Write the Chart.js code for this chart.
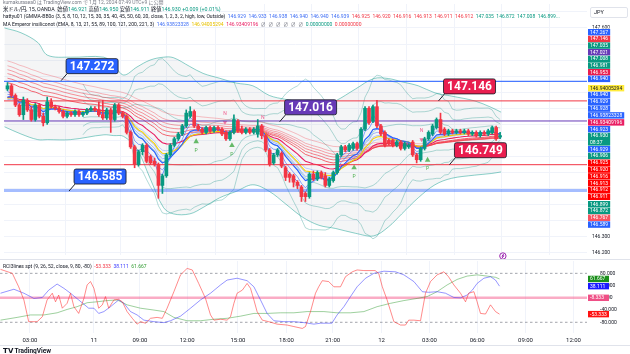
<!DOCTYPE html>
<html>
<head>
<meta charset="utf-8">
<script src="https://cdn.jsdelivr.net/npm/chart.js@4.4.1/dist/chart.umd.min.js"></script>
<style>
html,body{margin:0;padding:0;background:#fff;}
body{width:630px;height:354px;position:relative;overflow:hidden;font-family:Roboto,"Noto Sans CJK JP",sans-serif;}
canvas{position:absolute;left:0;}
#cMain{top:0;}
#cRci{top:260px;}
.t{position:absolute;left:3px;white-space:nowrap;font-size:5px;line-height:7px;color:#131722;z-index:5;}
.b{color:#3d6df5}.r{color:#f23645}.g{color:#089981}.y{color:#e8c200}.p{color:#e91e63}.gr{color:#787b86}
.rb{color:#3b3bff}.rg{color:#2e9a2e}
#jpy{position:absolute;left:590px;top:7px;width:33px;height:9px;border:1px solid #e0e3eb;border-radius:2px;font-size:5.5px;line-height:9px;padding-left:3px;box-sizing:content-box;color:#131722;background:#fff;z-index:5;}
.sep{position:absolute;left:0;width:630px;height:1px;background:#e0e3eb;}
#tv{position:absolute;left:3px;top:347px;font-size:6.5px;font-weight:bold;color:#131722;white-space:nowrap;}
</style>
</head>
<body>
<div class="t gr" style="top:-1.5px">kumakurasea0 は TradingView.com で 1月 12, 2024 07:49 UTC+9 に公開</div>
<div class="t" style="top:5.5px;font-size:5.3px">米ドル/円, 15, OANDA &nbsp;始値<span class="g">146.921</span> 高値<span class="g">146.950</span> 安値<span class="g">146.911</span> 終値<span class="g">146.930</span> <span class="g">+0.009 (+0.01%)</span></div>
<div class="t" style="top:12.8px">hattyu01 (GMMA-BB0o (3, 5, 8, 10, 12, 15, 30, 35, 40, 45, 50, 60, 20, close, 1, 2, 3, 2, high, low, Outside) &nbsp;<span class="b">146.929 &nbsp;146.933 &nbsp;146.938 &nbsp;146.940 &nbsp;146.940 &nbsp;146.939</span> &nbsp;<span class="r">146.925 &nbsp;146.920 &nbsp;146.916 &nbsp;146.913 &nbsp;146.911 &nbsp;146.912</span> &nbsp;<span class="g">147.035 &nbsp;146.872 &nbsp;147.008 &nbsp;146.899...</span></div>
<div class="t" style="top:20.6px">MA Emperor insiliconot (EMA, 8, 13, 21, 55, 89, 100, 121, 200, 221, 3) &nbsp;<span class="b">146.93823328</span> &nbsp;<span class="y">146.94005294</span> &nbsp;<span class="p">146.93409196</span> &nbsp;<span class="gr">∅ &nbsp;∅ &nbsp;∅ &nbsp;∅ &nbsp;∅ &nbsp;∅</span> &nbsp;<span class="g">0.00000000</span> &nbsp;<span class="r">0.00000000</span></div>
<div id="jpy">JPY</div>
<canvas id="cMain" width="630" height="259"></canvas>
<div class="sep" style="top:259px"></div>
<canvas id="cRci" width="630" height="86"></canvas>
<div class="t" style="top:263px">RCI3lines spt (9, 26, 52, close, 9, 80, -80) &nbsp;<span class="r">-53.333</span> &nbsp;<span class="rb">38.111</span> &nbsp;<span class="rg">61.667</span></div>
<div class="sep" style="top:345px"></div>
<div id="tv">𝗧𝗩 TradingView</div>
<script>
// ---------------- DATA ----------------
const candleOpen = [147.22,147.24,147.18,147.12,147.06,147.15,147.09,147.03,147.12,147.05,
147.01,147.14,147.11,147.10,147.08,147.05,147.07,147.06,147.08,147.06,
147.07,147.09,147.10,147.09,147.06,147.04,147.09,147.03,147.12,147.07,
147.05,146.95,146.86,146.75,146.83,146.87,146.80,146.77,146.75,146.62,
146.68,146.81,146.87,146.91,146.94,146.99,147.05,147.08,146.99,146.97,
146.95,146.98,146.96,146.98,146.97,146.95,146.91,146.95,147.02,146.97,
146.95,146.97,146.95,146.94,146.99,146.93,146.84,146.76,146.81,146.82,
146.73,146.69,146.68,146.64,146.61,146.57,146.55,146.69,146.66,146.70,
146.68,146.62,146.65,146.70,146.81,146.86,146.84,146.85,146.88,146.85,
146.97,147.10,147.02,147.11,146.99,146.95,146.90,146.90,146.87,146.89,
146.85,146.86,146.89,146.81,146.78,146.85,146.91,146.94,146.98,147.03,
146.97,146.94,146.96,146.95,146.96,146.95,146.96,146.94,146.95,146.93,
146.95,146.94,146.95,146.98,146.921];
const candleHigh = [147.26,147.25,147.19,147.13,147.17,147.16,147.11,147.13,147.13,147.07,
147.17,147.16,147.12,147.11,147.09,147.08,147.08,147.09,147.09,147.08,
147.10,147.11,147.11,147.14,147.15,147.10,147.10,147.13,147.13,147.08,
147.06,146.96,146.87,146.84,146.88,146.88,146.81,146.79,146.76,146.69,
146.82,146.88,146.92,146.95,147.00,147.09,147.11,147.09,147.00,146.98,
146.99,146.99,146.99,146.99,146.98,146.96,146.96,147.06,147.03,146.99,
146.98,146.98,146.98,147.03,147.00,146.94,146.85,146.82,146.85,146.83,
146.74,146.70,146.69,146.65,146.62,146.58,146.70,146.71,146.71,146.71,
146.70,146.67,146.71,146.82,146.87,146.87,146.88,146.89,146.89,146.98,
147.11,147.11,147.12,147.15,147.00,146.96,146.91,146.91,146.90,146.90,
146.89,146.88,146.90,146.82,146.86,146.92,146.96,147.00,147.04,147.07,
146.98,146.97,146.97,146.97,146.97,146.97,146.97,146.96,146.96,146.96,
146.96,146.97,146.99,146.99,146.950];
const candleLow = [147.21,147.17,147.11,147.05,147.03,147.08,147.02,147.02,147.04,146.99,
147.00,147.10,147.09,147.07,147.04,147.04,147.05,147.05,147.05,147.05,
147.06,147.08,147.08,147.05,147.03,147.03,146.95,147.02,147.06,147.04,
146.94,146.85,146.73,146.74,146.81,146.76,146.75,146.74,146.54,146.57,
146.67,146.80,146.86,146.90,146.93,146.98,147.04,146.98,146.96,146.94,
146.94,146.95,146.95,146.96,146.93,146.90,146.90,146.94,146.95,146.94,
146.94,146.94,146.94,146.92,146.91,146.83,146.74,146.75,146.80,146.73,
146.65,146.64,146.61,146.60,146.52,146.52,146.54,146.65,146.65,146.66,
146.61,146.61,146.64,146.69,146.80,146.83,146.83,146.84,146.84,146.84,
146.96,147.00,147.01,146.98,146.93,146.86,146.87,146.86,146.86,146.84,
146.84,146.85,146.80,146.76,146.77,146.84,146.90,146.93,146.97,146.94,
146.93,146.93,146.94,146.94,146.94,146.94,146.93,146.93,146.92,146.92,
146.93,146.93,146.94,146.90,146.911];
const candleClose = [147.24,147.18,147.12,147.06,147.15,147.09,147.03,147.12,147.05,147.01,
147.14,147.11,147.10,147.08,147.05,147.07,147.06,147.08,147.06,147.07,
147.09,147.10,147.09,147.06,147.04,147.09,147.03,147.12,147.07,147.05,
146.95,146.86,146.75,146.83,146.87,146.77,146.76,146.75,146.62,146.68,
146.81,146.87,146.91,146.94,146.99,147.07,147.08,146.99,146.97,146.95,
146.98,146.96,146.98,146.97,146.94,146.91,146.95,147.03,146.96,146.95,
146.97,146.95,146.97,146.99,146.93,146.84,146.75,146.81,146.84,146.74,
146.67,146.67,146.64,146.62,146.55,146.55,146.69,146.66,146.70,146.67,
146.62,146.66,146.70,146.81,146.86,146.84,146.87,146.88,146.85,146.97,
147.10,147.01,147.11,146.99,146.94,146.87,146.88,146.87,146.89,146.85,
146.88,146.87,146.81,146.78,146.85,146.91,146.95,146.99,147.03,146.95,
146.94,146.96,146.95,146.96,146.95,146.96,146.94,146.95,146.93,146.95,
146.94,146.96,146.98,146.91,146.930];

// EMA periods and starting values read at the left edge
const gmmaShortPeriods = [3,5,8,10,12,15];
const gmmaShortSeeds   = [147.17,147.16,147.15,147.15,147.14,147.14];
const gmmaLongPeriods  = [30,35,40,45,50,60];
const gmmaLongSeeds    = [147.26,147.29,147.32,147.345,147.37,147.40];
const emperorPeriods   = [8,13,21];
const emperorSeeds     = [147.15,147.15,147.16];
const bbPeriod = 20;
const bbMultipliers = [1,2,3];

// outer envelope
const envX     = [-0.75,3.4,7.6,10.1,15.9,24.25,26.75,29.25,32.6,35.9,39.25,41.75,45.9,49.25,53.4,57.6,61.75,65.9,70.1,74.25,78.4,82.6,87.6,92.2,95.9,99.25,103.4,107.6,111.75,117.6,121.75,124.25];
const envUpper = [147.60,147.57,147.51,147.43,147.418,147.418,147.37,147.307,147.357,147.40,147.418,147.415,147.36,147.317,147.287,147.257,147.24,147.18,147.155,147.136,147.106,147.146,147.22,147.285,147.285,147.265,147.24,147.196,147.176,147.146,147.106,147.076];
const envLower = [146.985,146.94,146.905,146.905,146.905,146.935,146.93,146.925,146.845,146.664,146.483,146.443,146.443,146.483,146.543,146.583,146.624,146.583,146.503,146.423,146.372,146.352,146.322,146.306,146.362,146.443,146.543,146.624,146.664,146.684,146.694,146.704];

// horizontal lines
const hLineValues = [147.267,147.146,147.021,146.749,146.589];
// callouts: value and bar where the pointer touches
const calloutValues = [147.272,147.016,147.146,146.749,146.585];
const calloutAt     = [13.5,68.5,108.5,111.25,15.5];
// pivot markers
const upMarkX = [47.5,56.5,87.25,105.75];
const upMarkY = [146.893,146.869,146.730,146.778];
const dnMarkX = [54.75,64.25,104.25];
const dnMarkY = [147.013,146.983,146.905];

// time axis
const timeTickPos    = [6.6,22.6,34.1,45.9,58.6,70.75,82.3,94.5,106.5,118.4,130.5,142.5];
const timeTickLabels = ['03:00','11','09:00','12:00','15:00','18:00','21:00','12','03:00','06:00','09:00','12:00'];

// price axis tags (text)
const axisTagText = ['147.267','147.146','147.035','147.021','147.008','146.981','146.953','146.940','146.94005294','146.940','146.929','146.928','146.93823328','146.93409196','146.923','146.930|08:37','146.929','146.906','146.925','146.920','146.916','146.913','146.912','146.911','146.899','146.872','146.767','146.589'];

// RCI lines
const rciShortX = [-0.75,2.2,3.8,5.1,6.3,8.4,9.7,10.9,12.2,13,13.8,14.7,15.9,16.75,17.6,18.8,20.1,20.9,21.75,22.6,23.8,24.7,25.5,26.3,27.6,28.8,29.7,30.9,32.2,33.4,34.25,35.5,36.75,38.4,39.7,40.9,42.6,44.25,45.9,47.2,48.8,50.5,51.75,52.6,54.25,55.9,56.75,57.6,58.4,59.7,60.9,61.75,62.6,63.4,64.7,66.3,68.4,70.9,72.6,74.7,75.5,76.75,78,78.8,79.7,81.3,82.6,84.25,85.5,87.2,88.4,90.1,92.9,93.8,94.7,95.9,97.6,99.25,100.5,101.3,102.6,104.25,105.5,106.75,108.4,110.1,111.25,112.6,114.25,115.5,116.3,117.6,118.4,119.25,120.5,121.75,123,124];
const rciShortY = [93,80,36,-7,-78,-78,-62,-7,15,-13,9,-34,-18,15,-29,-51,-2,42,53,31,-34,-23,4,-34,-7,-5,-13,-45,-67,-86,-78,-83,-67,-64,-67,-34,20,75,96,91,47,-2,-56,-73,-70,-73,-62,-18,15,25,47,31,-7,-45,-73,-78,-86,-89,-94,-100,-94,-45,15,36,56,53,36,36,69,85,91,89,89,80,36,-7,-78,-89,-89,-73,-73,-75,15,53,75,85,69,42,15,-13,15,20,-13,-51,-53,-23,-45,-53.333];
const rciMidX = [-0.75,2.6,5.1,7.6,9.7,11.3,13.4,15.1,16.75,18.8,21.3,22.6,23.8,25.1,26.75,28.8,30.1,31.75,33.4,35.1,37.6,40.1,41.75,44.25,46.75,49.25,51.75,54.25,55.9,58.4,60.9,62.6,64.25,65.9,67.6,70.1,72.6,75.1,77.6,79.25,82.1,83.4,85.1,86.75,88.4,90.5,92.6,95.1,98,100.1,102.6,104.7,106.3,108.4,110.5,112.6,114.25,115.9,117.2,118.4,120.1,121.75,123,124];
const rciMidY = [15,28,15,-2,1,25,45,31,15,-7,-34,-34,-51,-45,-29,-7,-18,-45,-56,-73,-78,-81,-75,-60,-34,-7,15,42,58,64,56,36,-7,-51,-75,-78,-78,-81,-86,-83,-83,-56,-29,4,36,64,80,87,85,75,53,20,18,20,15,1,0,9,25,47,64,69,58,38.111];
const rciLongX = [-0.75,3.4,6.75,10.1,13.4,15.9,18.4,20.9,23.4,25.9,28.4,30.9,34.25,37.6,40.1,42.6,45.9,49.25,52.6,55.9,59.25,62.6,65.9,69.25,72.6,75.9,80.1,83.4,86.75,90.1,93.4,96.75,100.1,103.4,105.9,108.4,110.9,113.4,115.9,118.4,120.9,123,124];
const rciLongY = [-73,-64,-56,-56,-49,-38,-29,-16,-13,-9,-7,-23,-34,-40,-45,-64,-75,-75,-70,-67,-60,-51,-51,-49,-49,-45,-45,-49,-49,-45,-29,-18,-9,-2,4,20,42,60,71,75,71,67,61.667];
const rciLevels = [80,-80];
const rciCenter = 0;
const rciTagValues = [61.667,38.111,0,-53.333];
const rciTagText   = ['61.667','38.111','-8.333','-53.333'];

// ---------------- STYLE / LAYOUT ----------------
const X_MIN=-0.875, X_MAX=145.875;
const Y_MIN=146.187, Y_MAX=147.749;
const R_MIN=-115, R_MAX=120.3;
const UP='#089981', DN='#f23645';
const axisTagStyle = [['#2962ff','#fff'],['#f23645','#fff'],['#089981','#fff'],['#673ab7','#fff'],['#089981','#fff'],['#089981','#fff'],['#e91e4f','#fff'],['#2962ff','#fff'],['#ffeb3b','#131722'],['#2962ff','#fff'],['#2962ff','#fff'],['#2962ff','#fff'],['#2962ff','#fff'],['#e91e63','#fff'],['#2962ff','#fff'],['#089981','#fff'],['#2962ff','#fff'],['#089981','#fff'],['#ff0000','#fff'],['#ff0000','#fff'],['#ff0000','#fff'],['#ff0000','#fff'],['#ff0000','#fff'],['#ff0000','#fff'],['#089981','#fff'],['#089981','#fff'],['#f7525f','#fff'],['#2962ff','#fff']];
const axisTagTops = [29,35.8,42.4,49,55.8,62.4,69,75.7,85,91.8,98.6,105.4,112.2,119.2,126,132.8,146,152.8,159.6,166.4,173.2,180,186.8,193.6,201,207.8,214.6,221.4];
const hLineStyle = [['rgba(41,98,255,0.85)',1.2],['#f23645',1],['#673ab7',1],['#f23645',1],['rgba(41,98,255,0.42)',3]];
const calloutColors = ['#2962ff','#673ab7','#e91e4f','#e91e4f','#2962ff'];
const rciTagColors = ['#1b8f1b','#1a1aff','#ef4f86','#ff1111'];

// ---------------- HELPERS ----------------
const idx = candleClose.map((_,i)=>i);
const pts = (xs,ys)=>xs.map((v,k)=>({x:v,y:ys[k]}));
function ema(vals, period, seed){ const a=2/(period+1); let e=seed; return vals.map(v=>{ e=e+a*(v-e); return e; }); }
function bbLine(vals, period, k){
  return vals.map((_,i)=>{
    if(i<period-1) return {x:i,y:null};
    const w=vals.slice(i-period+1,i+1);
    const m=w.reduce((s,v)=>s+v,0)/period;
    const sd=Math.sqrt(w.reduce((s,v)=>s+(v-m)*(v-m),0)/period);
    return {x:i,y:m+k*sd};
  });
}
const isUp = idx.map(i=>candleClose[i]>=candleOpen[i]);
const lineDs = (data,color,width,order,extra)=>Object.assign({type:'line',data,borderColor:color,borderWidth:width,pointRadius:0,tension:0,fill:false,order,spanGaps:false},extra||{});

const datasets = [];
datasets.push({type:'bar',data:idx.map(i=>({x:i,y:[candleOpen[i],candleClose[i]]})),backgroundColor:isUp.map(u=>u?UP:DN),barThickness:3,minBarLength:1,grouped:false,order:0,borderWidth:0});
datasets.push({type:'bar',data:idx.map(i=>({x:i,y:[candleLow[i],candleHigh[i]]})),backgroundColor:isUp.map(u=>u?UP:DN),barThickness:1,grouped:false,order:1,borderWidth:0});
hLineValues.forEach((v,k)=>datasets.push(lineDs([{x:X_MIN,y:v},{x:X_MAX,y:v}],hLineStyle[k][0],hLineStyle[k][1],2)));
datasets.push({type:'scatter',data:pts(upMarkX,upMarkY),pointStyle:'triangle',pointRadius:3.2,backgroundColor:'rgba(76,175,80,0.85)',borderWidth:0,order:2.5,showLine:false});
datasets.push({type:'scatter',data:pts(dnMarkX,dnMarkY),pointStyle:'triangle',rotation:180,pointRadius:2.6,backgroundColor:'rgba(240,98,146,0.85)',borderWidth:0,order:2.5,showLine:false});
const empColors=['#2962ff','#f5d000','#e91e63'];
emperorPeriods.forEach((p,k)=>datasets.push(lineDs(ema(candleClose,p,emperorSeeds[k]).map((v,i)=>({x:i,y:v})),empColors[k],1.1,3)));
const shortAlpha=[0.85,0.7,0.6,0.5,0.42,0.35];
gmmaShortPeriods.forEach((p,k)=>datasets.push(lineDs(ema(candleClose,p,gmmaShortSeeds[k]).map((v,i)=>({x:i,y:v})),`rgba(66,110,255,${shortAlpha[k]})`,0.9,4)));
const longAlpha=[0.85,0.7,0.6,0.5,0.42,0.35];
gmmaLongPeriods.forEach((p,k)=>datasets.push(lineDs(ema(candleClose,p,gmmaLongSeeds[k]).map((v,i)=>({x:i,y:v})),`rgba(242,54,69,${longAlpha[k]})`,0.9,5)));
bbMultipliers.forEach(m=>{
  datasets.push(lineDs(bbLine(candleClose,bbPeriod,m),'rgba(0,137,123,0.38)',0.8,6));
  datasets.push(lineDs(bbLine(candleClose,bbPeriod,-m),'rgba(0,137,123,0.38)',0.8,6));
});
datasets.push(lineDs(pts(envX,envUpper),'rgba(0,150,136,0.5)',0.9,7,{tension:0.35}));
datasets.push(lineDs(pts(envX,envLower),'rgba(0,150,136,0.5)',0.9,7,{tension:0.35,fill:'-1',backgroundColor:'rgba(120,123,134,0.08)'}));

function roundRect(ctx,x,y,w,h,r){ctx.beginPath();ctx.moveTo(x+r,y);ctx.lineTo(x+w-r,y);ctx.quadraticCurveTo(x+w,y,x+w,y+r);ctx.lineTo(x+w,y+h-r);ctx.quadraticCurveTo(x+w,y+h,x+w-r,y+h);ctx.lineTo(x+r,y+h);ctx.quadraticCurveTo(x,y+h,x,y+h-r);ctx.lineTo(x,y+r);ctx.quadraticCurveTo(x,y,x+r,y);ctx.closePath();}

const mainOverlay = {
  id:'mainOverlay',
  afterDatasetsDraw(chart){
    const {ctx,scales:{x,y}} = chart;
    ctx.save();
    ctx.font='5px Roboto'; ctx.textAlign='center'; ctx.textBaseline='middle';
    upMarkX.forEach((v,k)=>{ctx.fillStyle='#4caf50';ctx.fillText('P',x.getPixelForValue(v),y.getPixelForValue(upMarkY[k])+9);});
    dnMarkX.forEach((v,k)=>{ctx.fillStyle='#f06292';ctx.fillText('N',x.getPixelForValue(v),y.getPixelForValue(dnMarkY[k])-9);});
    const ix=x.getPixelForValue(124.7), iy=256;
    ctx.strokeStyle='#9c27b0'; ctx.lineWidth=1; ctx.beginPath(); ctx.arc(ix,iy,3.2,0,Math.PI*2); ctx.stroke();
    ctx.beginPath(); ctx.moveTo(ix+0.8,iy-2); ctx.lineTo(ix-1,iy+0.3); ctx.lineTo(ix+1,iy-0.3); ctx.lineTo(ix-0.8,iy+2); ctx.stroke();
    calloutValues.forEach((v,k)=>{
      const px=x.getPixelForValue(calloutAt[k]), py=y.getPixelForValue(v);
      ctx.strokeStyle='#1e222d'; ctx.lineWidth=1;
      ctx.beginPath(); ctx.moveTo(px,py); ctx.lineTo(px+6,py-7); ctx.stroke();
      const bx=px+5, by=py-22, bw=52, bh=15;
      roundRect(ctx,bx,by,bw,bh,2); ctx.fillStyle=calloutColors[k]; ctx.fill();
      ctx.strokeStyle='rgba(19,23,34,0.8)'; ctx.stroke();
      ctx.fillStyle='#fff'; ctx.font='bold 12px Roboto'; ctx.textAlign='center'; ctx.textBaseline='middle';
      ctx.fillText(v.toFixed(3),bx+bw/2,by+bh/2+0.5);
    });
    ctx.restore();
  },
  afterDraw(chart){
    const {ctx,chartArea} = chart;
    const x0 = chartArea.right+1;
    ctx.save();
    ctx.fillStyle='#fff'; ctx.fillRect(chartArea.right+0.5,28.5,630-chartArea.right,200);
    ctx.font='5px Roboto'; ctx.textBaseline='middle'; ctx.textAlign='left';
    axisTagText.forEach((t,k)=>{
      const parts=t.split('|'); const h=parts.length>1?12.8:6.4;
      const tw=Math.max(...parts.map(p=>ctx.measureText(p).width));
      const w=Math.max(21,tw+4);
      ctx.fillStyle=axisTagStyle[k][0]; ctx.fillRect(x0,axisTagTops[k],w,h);
      ctx.fillStyle=axisTagStyle[k][1];
      parts.forEach((p,j)=>ctx.fillText(p,x0+2,axisTagTops[k]+3.3+j*6.2));
    });
    ctx.restore();
  }
};

const timeAfterBuild = s=>{ s.ticks = timeTickPos.map(v=>({value:v})); };

new Chart(document.getElementById('cMain'),{
  type:'line',
  data:{datasets},
  options:{
    responsive:false,animation:false,events:[],
    layout:{padding:0},
    plugins:{legend:{display:false},tooltip:{enabled:false}},
    scales:{
      x:{type:'linear',min:X_MIN,max:X_MAX,offset:false,afterBuildTicks:timeAfterBuild,
         ticks:{display:false},grid:{color:'#f0f3fa',drawTicks:false},border:{display:false},
         afterFit:s=>{s.height=0;s.paddingLeft=0;s.paddingRight=0;}},
      y:{type:'linear',position:'right',min:Y_MIN,max:Y_MAX,
         ticks:{stepSize:0.1,includeBounds:false,font:{size:5,family:'Roboto'},color:'#131722',padding:5,callback:v=>v.toFixed(3)},
         grid:{color:'#f0f3fa',drawTicks:false},border:{display:false},
         afterFit:s=>{s.width=43;s.paddingTop=0;s.paddingBottom=0;}}
    }
  },
  plugins:[mainOverlay]
});

const rciOverlay = {
  id:'rciOverlay',
  afterDraw(chart){
    const {ctx,chartArea,scales:{y}} = chart;
    const x0=chartArea.right+1;
    ctx.save(); ctx.font='5px Roboto'; ctx.textBaseline='middle'; ctx.textAlign='left';
    rciTagValues.forEach((v,k)=>{
      const py=y.getPixelForValue(v);
      const w=Math.max(21,ctx.measureText(rciTagText[k]).width+4);
      ctx.fillStyle=rciTagColors[k]; ctx.fillRect(x0,py-3.2,w,6.4);
      ctx.fillStyle='#fff'; ctx.fillText(rciTagText[k],x0+2,py+0.2);
    });
    ctx.restore();
  }
};
new Chart(document.getElementById('cRci'),{
  type:'line',
  data:{datasets:[
    lineDs(pts(rciShortX,rciShortY),'rgba(255,40,40,0.6)',0.9,1),
    lineDs(pts(rciMidX,rciMidY),'rgba(40,40,255,0.55)',0.9,2),
    lineDs(pts(rciLongX,rciLongY),'rgba(40,150,40,0.5)',0.9,3),
    ...rciLevels.map(v=>lineDs([{x:X_MIN,y:v},{x:X_MAX,y:v}],'#8a8d96',0.8,4,{borderDash:[2.5,2.5]})),
    lineDs([{x:X_MIN,y:rciCenter},{x:X_MAX,y:rciCenter}],'rgba(245,90,140,0.5)',2.6,5)
  ]},
  options:{
    responsive:false,animation:false,events:[],
    layout:{padding:{top:1}},
    plugins:{legend:{display:false},tooltip:{enabled:false}},
    scales:{
      x:{type:'linear',min:X_MIN,max:X_MAX,offset:false,afterBuildTicks:timeAfterBuild,
         ticks:{autoSkip:false,maxRotation:0,padding:4,font:{size:6,family:'Roboto'},color:'#131722',callback:(v,i)=>timeTickLabels[i]},
         grid:{color:'#f0f3fa',drawTicks:false},border:{display:false},
         afterFit:s=>{s.height=13;s.paddingLeft=0;s.paddingRight=0;}},
      y:{type:'linear',position:'right',min:R_MIN,max:R_MAX,
         afterBuildTicks:s=>{s.ticks=s.ticks.filter(t=>t.value<=100);},
         ticks:{stepSize:40,includeBounds:false,font:{size:5,family:'Roboto'},color:'#131722',padding:5,callback:v=>v.toFixed(3)},
         grid:{display:false},border:{display:false},
         afterFit:s=>{s.width=43;s.paddingTop=0;s.paddingBottom=0;}}
    }
  },
  plugins:[rciOverlay]
});
</script>
</body>
</html>
